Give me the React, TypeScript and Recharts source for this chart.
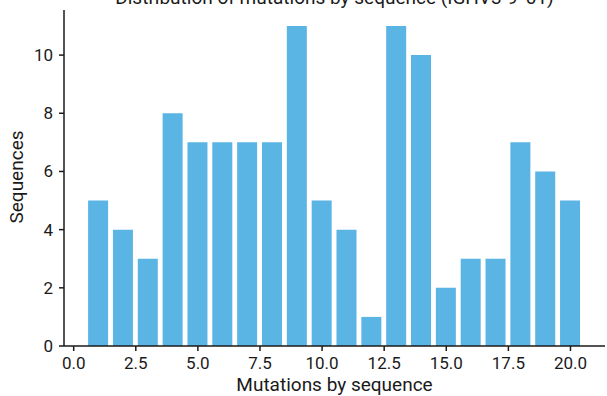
import React from 'react';
import { BarChart, Bar, XAxis, YAxis } from 'recharts';

const mutations = [1, 2, 3, 4, 5, 6, 7, 8, 9, 10, 11, 12, 13, 14, 15, 16, 17, 18, 19, 20];
const sequences = [5, 4, 3, 8, 7, 7, 7, 7, 11, 5, 4, 1, 11, 10, 2, 3, 3, 7, 6, 5];
const xTicks = [0, 2.5, 5, 7.5, 10, 12.5, 15, 17.5, 20];
const yTicks = [0, 2, 4, 6, 8, 10];
const title = 'Distribution of mutations by sequence (IGHV3-9*01)';
const xLabel = 'Mutations by sequence';
const yLabel = 'Sequences';

const data = mutations.map((m, i) => ({ m, count: sequences[i] }));

const FONT = 'Roboto, "Noto Sans", sans-serif';
const BAR = '#5AB4E4';
const INK = '#1a1a1a';

export default function App() {
  return (
    <div style={{ position: 'absolute', left: 0, top: 0, width: 607, height: 396, background: '#fff', fontFamily: FONT }}>
      <BarChart width={607} height={396} data={data} margin={{ top: 10, right: 2, left: 0, bottom: 0 }}>
        <XAxis
          dataKey="m"
          type="number"
          domain={[-0.39, 21.39]}
          ticks={xTicks}
          allowDataOverflow
          tickFormatter={(v: number) => v.toFixed(1)}
          height={50}
          tickSize={5}
          tickMargin={6}
          stroke={INK}
          strokeWidth={1.5}
          tick={{ fill: INK, fontSize: 17, fontFamily: FONT }}
        />
        <YAxis
          type="number"
          domain={[0, 11.55]}
          ticks={yTicks}
          allowDataOverflow
          width={64}
          tickSize={5}
          tickMargin={6}
          stroke={INK}
          strokeWidth={1.5}
          tick={{ fill: INK, fontSize: 17, fontFamily: FONT }}
        />
        <Bar dataKey="count" fill={BAR} barSize={20} isAnimationActive={false} />
      </BarChart>
      <svg width={607} height={396} style={{ position: 'absolute', left: 0, top: 0, pointerEvents: 'none' }}>
        <text x={334.5} y={4} textAnchor="middle" fontSize={19} fontFamily={FONT} fill={INK}>{title}</text>
        <text x={334.5} y={391} textAnchor="middle" fontSize={19} fontFamily={FONT} fill={INK}>{xLabel}</text>
        <text x={23} y={177} textAnchor="middle" fontSize={19} fontFamily={FONT} fill={INK} transform="rotate(-90 23 177)">{yLabel}</text>
      </svg>
    </div>
  );
}
